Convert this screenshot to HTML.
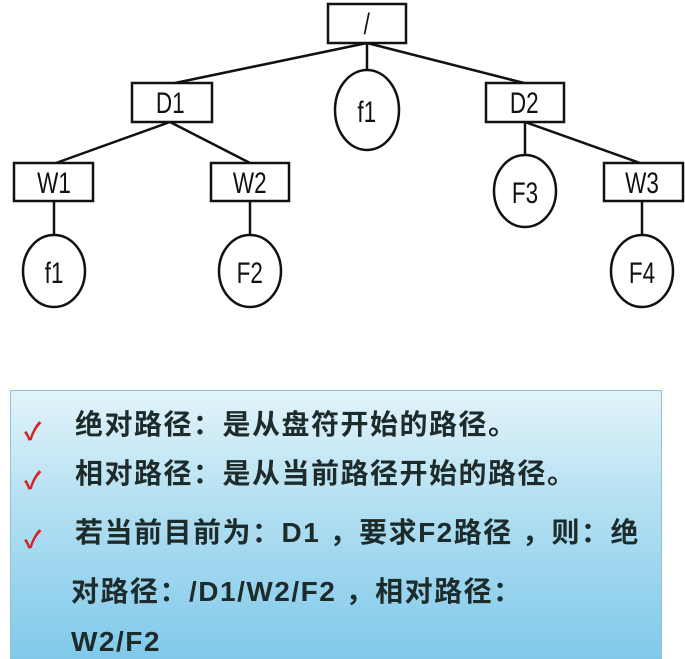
<!DOCTYPE html>
<html><head><meta charset="utf-8"><style>
html,body{margin:0;padding:0;background:#fff;width:685px;height:659px;overflow:hidden;position:relative;font-family:"Liberation Sans","Noto Sans CJK SC",sans-serif}
.panel{position:absolute;left:10px;top:390px;width:650px;height:275px;border:1px solid #8fc4d0;background:linear-gradient(#e2f4fa,#b5e0f2 40%,#7ec8ea);}
.t{position:absolute;font-size:28px;font-weight:bold;color:#1d2b2b;white-space:nowrap;letter-spacing:1.5px;line-height:32px}
.c{position:absolute;color:#d4222a;font-size:24px;left:24px;font-weight:bold}
</style></head><body>
<svg width="685" height="330" style="position:absolute;left:0;top:0" font-family="Liberation Sans, sans-serif" font-size="30">
<g stroke="#111" stroke-width="2.5" fill="none">
<line x1="367" y1="43" x2="175" y2="83"/><line x1="367" y1="43" x2="367" y2="70"/><line x1="367" y1="43" x2="524" y2="83"/>
<line x1="170" y1="122" x2="56" y2="163"/><line x1="170" y1="122" x2="250" y2="163"/>
<line x1="525" y1="122" x2="525" y2="157"/><line x1="525" y1="122" x2="640" y2="163"/>
<line x1="54" y1="201" x2="54" y2="236"/><line x1="250" y1="201" x2="250" y2="236"/><line x1="642" y1="201" x2="642" y2="236"/>
<rect x="328" y="4" width="78" height="39" fill="#fff"/>
<rect x="132" y="83" width="80" height="39" fill="#fff"/>
<rect x="486" y="83" width="78" height="39" fill="#fff"/>
<rect x="14" y="163" width="79" height="38" fill="#fff"/>
<rect x="211" y="163" width="78" height="38" fill="#fff"/>
<rect x="604" y="163" width="79" height="38" fill="#fff"/>
<ellipse cx="367" cy="110" rx="32" ry="40" fill="#fff"/>
<ellipse cx="525" cy="191" rx="31" ry="36" fill="#fff"/>
<ellipse cx="54" cy="271" rx="31" ry="36" fill="#fff"/>
<ellipse cx="250" cy="271" rx="31" ry="36" fill="#fff"/>
<ellipse cx="642" cy="271" rx="31" ry="36" fill="#fff"/>
</g>
<g fill="#111" text-anchor="middle" transform="scale(0.75,1)">
<text x="489" y="34">/</text>
<text x="227" y="113">D1</text>
<text x="699" y="113">D2</text>
<text x="489" y="122">f1</text>
<text x="72" y="193">W1</text>
<text x="333" y="193">W2</text>
<text x="700" y="203">F3</text>
<text x="856" y="193">W3</text>
<text x="72" y="283">f1</text>
<text x="333" y="283">F2</text>
<text x="856" y="283">F4</text>
</g>
</svg>
<div class="panel"></div>
<div class="c" style="top:412px">✓</div>
<div class="c" style="top:461px">✓</div>
<div class="c" style="top:520px">✓</div>
<div class="t" style="left:75px;top:409px">绝对路径：是从盘符开始的路径。</div>
<div class="t" style="left:75px;top:458px">相对路径：是从当前路径开始的路径。</div>
<div class="t" style="left:75px;top:517px">若当前目前为：D1 ，要求F2路径 ，则：绝</div>
<div class="t" style="left:71px;top:576px">对路径：/D1/W2/F2 ，相对路径：</div>
<div class="t" style="left:71px;top:626px">W2/F2</div>
</body></html>
